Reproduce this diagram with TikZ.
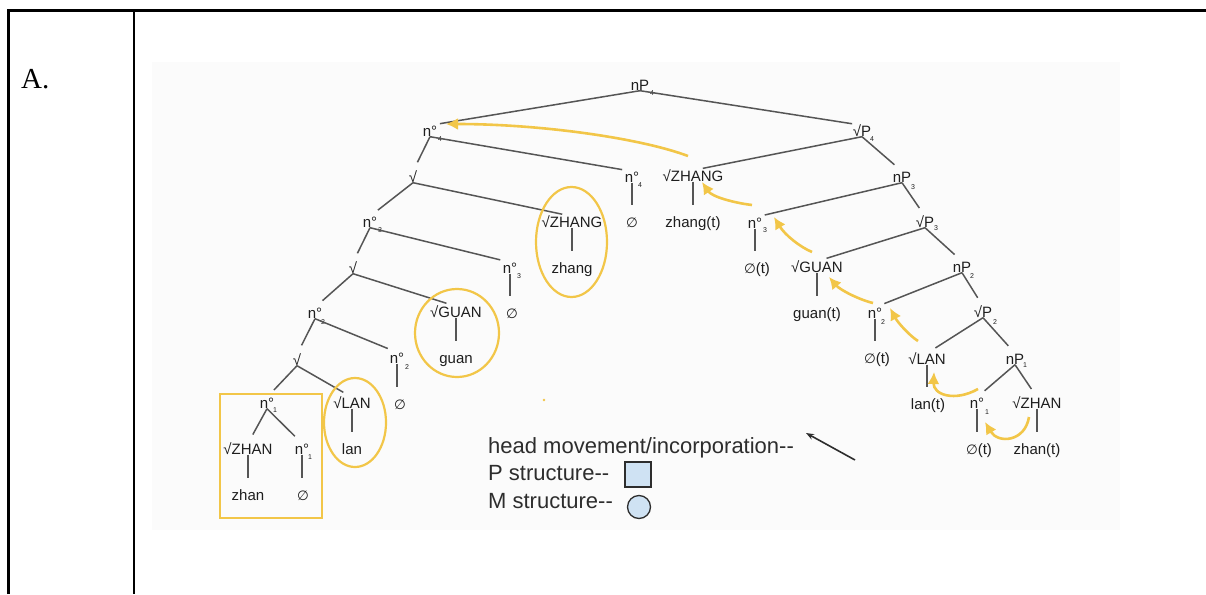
\documentclass[tikz,border=0pt]{standalone}
\usepackage{fontspec}
\setmainfont{Liberation Sans}
\newfontfamily\serifA{Liberation Serif}
\newfontfamily\symb{DejaVu Sans}
\usetikzlibrary{arrows.meta}
\definecolor{gold}{RGB}{242,198,72}
\definecolor{edge}{RGB}{85,85,85}
\definecolor{ink}{RGB}{30,30,30}
\definecolor{legink}{RGB}{45,45,45}
\definecolor{legfill}{RGB}{207,226,243}
\definecolor{panel}{RGB}{251,251,251}
\newcommand{\nul}{{\symb\fontsize{13.5}{13.5}\selectfont ∅}}
\newcommand{\dd}{-\kern0pt-}
\begin{document}
\begin{tikzpicture}[x=1pt,y=-1pt,
  lab/.style={font=\fontsize{15}{18}\selectfont, text=ink, inner sep=0pt, text height=11pt, text depth=0pt},
  sub/.style={font=\fontsize{7}{7}\selectfont, text=ink, inner sep=0pt},
  br/.style={draw=edge, line width=1.5pt, shorten >=10pt},
  vt/.style={draw=edge, line width=1.5pt, shorten >=11pt},
  mv/.style={draw=gold, line width=2.6pt, -{Latex[length=12pt,width=12pt]}},
  ring/.style={draw=gold, line width=2.2pt},
  rule/.style={draw=black, line width=2.7pt},
  leg/.style={font=\fontsize{22}{24}\selectfont, text=legink, inner sep=0pt, anchor=base west}]
\useasboundingbox (0,0) rectangle (1206,594);

% table frame
\draw[rule] (8.7,594) |- (1206,10.7);
\draw[rule] (134,10.7) -- (134,594);
\node[font=\serifA\fontsize{29}{29}\selectfont, anchor=base west, inner sep=0pt] (lblA) at (21,88) {A.};

% panel behind the trees
\fill[panel] (152,62) rectangle (1120,530);

% ---- nodes ----
\node[lab] (np4) at (640,85) {nP};
\node[lab] (n4) at (430,131) {n°};
\node[lab] (vp4) at (862,131) {√P};
\node[lab] (rt4) at (413,177) {√};
\node[lab] (n4b) at (632,177) {n°};
\node[lab] (n4b0) at (632,222) {\nul};
\node[lab] (zhangR) at (693,176) {√ZHANG};
\node[lab] (zhangRt) at (693,222) {zhang(t)};
\node[lab] (np3) at (902,177) {nP};
\node[lab] (n3) at (370,222) {n°};
\node[lab] (zhangL) at (572,222) {√ZHANG};
\node[lab] (zhang) at (572,268) {zhang};
\node[lab] (rt3) at (353,268) {√};
\node[lab] (n3b) at (510,268) {n°};
\node[lab] (n3b0) at (512,313) {\nul};
\node[lab] (n3R) at (755,223) {n°};
\node[lab] (n3R0) at (757,268) {\nul(t)};
\node[lab] (vp3) at (925,222) {√P};
\node[lab] (guanR) at (817,267) {√GUAN};
\node[lab] (guanRt) at (817,313) {guan(t)};
\node[lab] (np2) at (962,267) {nP};
\node[lab] (n2) at (315,313) {n°};
\node[lab] (guanL) at (456,312) {√GUAN};
\node[lab] (guan) at (456,358) {guan};
\node[lab] (rt2) at (297,360) {√};
\node[lab] (n2b) at (397,358) {n°};
\node[lab] (n2b0) at (400,404) {\nul};
\node[lab] (n2R) at (875,313) {n°};
\node[lab] (n2R0) at (877,358) {\nul(t)};
\node[lab] (vp2) at (983,312) {√P};
\node[lab] (lanR) at (927,359) {√LAN};
\node[lab] (lanRt) at (928,404) {lan(t)};
\node[lab] (np1) at (1015,359) {nP};
\node[lab] (n1) at (267,403) {n°};
\node[lab] (lanL) at (352,403) {√LAN};
\node[lab] (lan) at (352,449) {lan};
\node[lab] (zhanL) at (248,449) {√ZHAN};
\node[lab] (zhan) at (248,495) {zhan};
\node[lab] (n1b) at (302,449) {n°};
\node[lab] (n1b0) at (303,495) {\nul};
\node[lab] (n1R) at (977,403) {n°};
\node[lab] (n1R0) at (979,449) {\nul(t)};
\node[lab] (zhanR) at (1037,403) {√ZHAN};
\node[lab] (zhanRt) at (1037,449) {zhan(t)};

% subscripts
\node[sub] (s1) at (652,93) {4};
\node[sub] (s2) at (440,139) {4};
\node[sub] (s3) at (872,139) {4};
\node[sub] (s4) at (640,185) {4};
\node[sub] (s5) at (913,187) {3};
\node[sub] (s6) at (380,230) {3};
\node[sub] (s7) at (765,230) {3};
\node[sub] (s8) at (519,276) {3};
\node[sub] (s9) at (936,228) {3};
\node[sub] (s10) at (972,276) {2};
\node[sub] (s11) at (323,322) {2};
\node[sub] (s12) at (883,322) {2};
\node[sub] (s13) at (407,367) {2};
\node[sub] (s14) at (995,322) {2};
\node[sub] (s15) at (1025,365) {1};
\node[sub] (s16) at (275,410) {1};
\node[sub] (s17) at (310,457) {1};
\node[sub] (s18) at (987,412) {1};

% ---- branches ----
\foreach \p/\c in {np4/n4, np4/vp4, n4/rt4, n4/n4b, vp4/zhangR, vp4/np3,
  rt4/n3, rt4/zhangL, np3/n3R, np3/vp3, n3/rt3, n3/n3b, vp3/guanR, vp3/np2,
  rt3/n2, rt3/guanL, np2/n2R, np2/vp2, n2/rt2, n2/n2b, vp2/lanR, vp2/np1,
  rt2/n1, rt2/lanL, np1/n1R, np1/zhanR, n1/zhanL, n1/n1b}
  \draw[br] (\p.south) -- (\c.north);
\foreach \p/\c in {n4b/n4b0, zhangR/zhangRt, zhangL/zhang, n3R/n3R0, n3b/n3b0,
  guanR/guanRt, guanL/guan, n2R/n2R0, n2b/n2b0, lanR/lanRt, lanL/lan,
  n1R/n1R0, zhanR/zhanRt, zhanL/zhan, n1b/n1b0}
  \draw[vt] (\p.south) -- (\p.south |- \c.north);

% ---- marked structures ----
\draw[ring] (571.5,242) ellipse [x radius=35.5, y radius=55];
\draw[ring] (457,333) ellipse [x radius=42, y radius=44];
\draw[ring] (355,422.5) ellipse [x radius=31, y radius=44.5];
\draw[ring] (220,394) rectangle (322,518);
\fill[gold] (544,400) circle (1.3);

% ---- head movement ----
\coordinate (m1s) at (688,156);  \coordinate (m1e) at (446,124);
\coordinate (m2s) at (752,205);  \coordinate (m2e) at (702,182);
\coordinate (m3s) at (812,252);  \coordinate (m3e) at (774,217);
\coordinate (m4s) at (873,303);  \coordinate (m4e) at (829,277);
\coordinate (m5s) at (918,341);  \coordinate (m5e) at (890,308);
\coordinate (m6s) at (978,389);  \coordinate (m6e) at (934,372);
\coordinate (m7s) at (1029,417); \coordinate (m7e) at (985,422);
\draw[mv] (m1s) .. controls (640,138) and (540,124) .. (m1e);
\draw[mv] (m2s) .. controls (735,203) and (712,197) .. (m2e);
\draw[mv] (m3s) .. controls (800,247) and (785,235) .. (m3e);
\draw[mv] (m4s) .. controls (860,300) and (840,290) .. (m4e);
\draw[mv] (m5s) .. controls (910,336) and (898,323) .. (m5e);
\draw[mv] (m6s) .. controls (955,402) and (933,395) .. (m6e);
\draw[mv] (m7s) .. controls (1025,442) and (998,444) .. (m7e);

% ---- legend ----
\node[leg] (lg1) at (488,453) {head movement/incorporation\dd};
\node[leg] (lg2) at (488,480) {P structure\dd};
\node[leg] (lg3) at (488,508) {M structure\dd};
\coordinate (ks) at (855,460);
\coordinate (ke) at (806,433);
\draw[draw=legink, line width=1.6pt, -{Stealth[length=8pt,width=6pt]}] (ks) -- (ke);
\draw[draw=legink, fill=legfill, line width=1.3pt] (625,462) rectangle (651,487);
\draw[draw=legink, fill=legfill, line width=1.3pt] (639,507) circle (11.5);
\end{tikzpicture}
\end{document}
